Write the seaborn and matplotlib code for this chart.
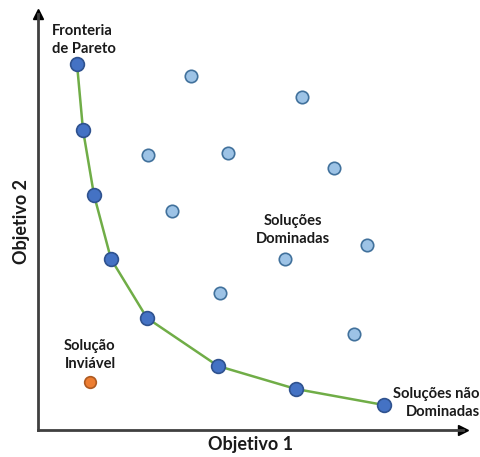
import numpy as np
import pandas as pd
import matplotlib.pyplot as plt
import seaborn as sns

# Pareto front points (non-dominated)
pareto_x = [39, 45, 56, 73, 109, 180, 258, 346]
pareto_y = [366, 300, 235, 171, 112, 64, 41, 25]

# Dominated solutions
dom_x = [153, 264, 110, 190, 296, 134, 247, 329, 182, 316]
dom_y = [354, 333, 275, 277, 262, 219, 171, 185, 137, 96]

# Infeasible solution
inv_x = [52]
inv_y = [48]

pareto = pd.DataFrame({"obj1": pareto_x, "obj2": pareto_y})
dom = pd.DataFrame({"obj1": dom_x, "obj2": dom_y})
inv = pd.DataFrame({"obj1": inv_x, "obj2": inv_y})

sns.set_style("white")
plt.rcParams["font.family"] = ["Lato", "DejaVu Sans"]

fig = plt.figure(figsize=(4.8, 4.57), dpi=100)
ax = fig.add_axes([38 / 480, 27 / 457, 425 / 480, 416 / 457])
ax.set_xlim(0, 425)
ax.set_ylim(0, 416)

sns.lineplot(data=pareto, x="obj1", y="obj2", ax=ax, color="#70AD47",
             linewidth=1.8, sort=False, zorder=2)
sns.scatterplot(data=dom, x="obj1", y="obj2", ax=ax, s=80, color="#9DC3E6",
                edgecolor="#41719C", linewidth=1.2, zorder=3)
sns.scatterplot(data=pareto, x="obj1", y="obj2", ax=ax, s=98, color="#4472C4",
                edgecolor="#2F528F", linewidth=1.2, zorder=4)
sns.scatterplot(data=inv, x="obj1", y="obj2", ax=ax, s=70, color="#ED7D31",
                edgecolor="#AE5A21", linewidth=1.2, zorder=4)

# axes with arrows
for s in ["top", "right"]:
    ax.spines[s].set_visible(False)
for s in ["left", "bottom"]:
    ax.spines[s].set_color("#404040")
    ax.spines[s].set_linewidth(2)
ax.plot(1, 0, ">", color="black", markersize=7, transform=ax.transAxes, clip_on=False)
ax.plot(0, 1, "^", color="black", markersize=7, transform=ax.transAxes, clip_on=False)
ax.set_xticks([])
ax.set_yticks([])

ax.set_xlabel("Objetivo 1", fontsize=13, fontweight="bold", color="#1a1a1a", labelpad=4)
ax.set_ylabel("Objetivo 2", fontsize=13, fontweight="bold", color="#1a1a1a", labelpad=6)

tk = dict(fontsize=10.6, fontweight="bold", color="#1a1a1a", linespacing=1.3)
ax.text(14, 390, "Fronteria\nde Pareto", ha="left", va="center", **tk)
ax.text(255, 200, "Soluções\nDominadas", ha="center", va="center", **tk)
ax.text(52, 75, "Solução\nInviável", ha="center", va="center", **tk)
ax.text(442, 27, "Soluções não\nDominadas", ha="right", va="center", **tk)

fig.savefig("out.png", dpi=100)
